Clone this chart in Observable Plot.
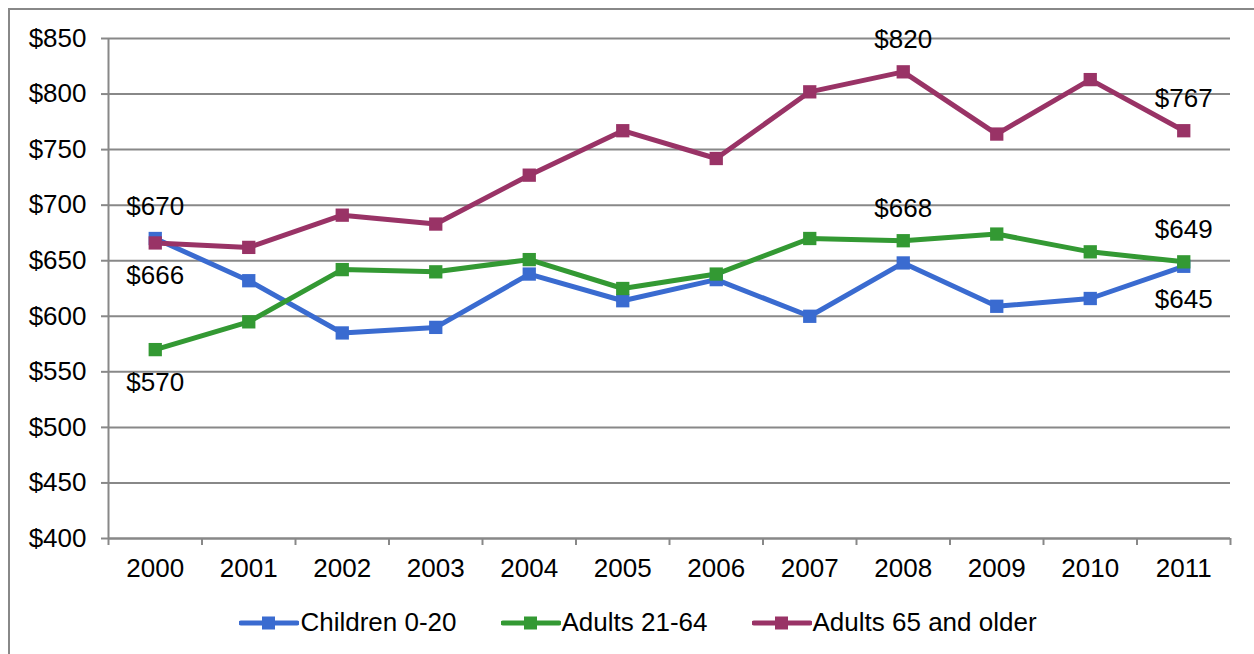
<!DOCTYPE html>
<html>
<head>
<meta charset="utf-8">
<script src="https://cdn.jsdelivr.net/npm/d3@7"></script>
<script src="https://cdn.jsdelivr.net/npm/@observablehq/plot@0.6"></script>
<style>
  html, body { margin: 0; padding: 0; background: #fff; overflow: hidden; }
  body { width: 1254px; height: 654px; position: relative; font-family: "Liberation Sans", Arial, sans-serif; }
  #frame { position: absolute; left: 8px; top: 8px; width: 1300px; height: 700px; border: 2px solid #888; box-sizing: border-box; }
  #chart { position: absolute; left: 0; top: 0; }
  #legend { position: absolute; left: 0; top: 607px; width: 1254px; display: flex; justify-content: center; padding-left: 22px; box-sizing: border-box; font-size: 26px; color: #000; }
  .item { display: flex; align-items: center; margin: 0 22px; white-space: nowrap; }
  .item svg { margin-right: 1px; }
</style>
</head>
<body>
<div id="frame"></div>
<div id="chart"></div>
<div id="legend"></div>
<script>
// Average monthly spending by age group, 2000-2011
const years = [2000, 2001, 2002, 2003, 2004, 2005, 2006, 2007, 2008, 2009, 2010, 2011];
const children = [670, 632, 585, 590, 638, 614, 633, 600, 648, 609, 616, 645];
const adults = [570, 595, 642, 640, 651, 625, 638, 670, 668, 674, 658, 649];
const seniors = [666, 662, 691, 683, 727, 767, 742, 802, 820, 764, 813, 767];
const seriesNames = ["Children 0-20", "Adults 21-64", "Adults 65 and older"];
const seriesColors = ["#3a6bd0", "#339933", "#993366"];
const yTicks = [400, 450, 500, 550, 600, 650, 700, 750, 800, 850];

// Value labels: series index, year, and side of the marker
const valueLabels = [
  {series: 0, year: 2000, side: "above"},
  {series: 2, year: 2000, side: "below"},
  {series: 1, year: 2000, side: "below"},
  {series: 2, year: 2008, side: "above"},
  {series: 1, year: 2008, side: "above"},
  {series: 2, year: 2011, side: "above"},
  {series: 1, year: 2011, side: "above"},
  {series: 0, year: 2011, side: "below"}
];

const seriesValues = [children, adults, seniors];
const rows = seriesValues.flatMap((vals, i) =>
  years.map((year, j) => ({series: seriesNames[i], year, value: vals[j]}))
);
const labelRows = valueLabels.map(l => {
  const value = seriesValues[l.series][years.indexOf(l.year)];
  return {year: l.year, value, side: l.side, text: "$" + value};
});
// Category boundaries for the tick marks between years
const boundaries = [years[0] - 0.5, ...years.map(y => y + 0.5)];

const fontFamily = "'Liberation Sans', Arial, sans-serif";
const gray = "#888";
const fs = 26;

const chart = Plot.plot({
  width: 1254,
  height: 600,
  marginTop: 38,
  marginBottom: 62,
  marginLeft: 108,
  marginRight: 24,
  style: {fontFamily, fontSize: fs + "px", color: "#000", background: "transparent", overflow: "visible"},
  x: {type: "linear", domain: [years[0] - 0.5, years[years.length - 1] + 0.5]},
  y: {domain: [400, 850]},
  color: {domain: seriesNames, range: seriesColors},
  marks: [
    Plot.gridY(yTicks, {stroke: gray, strokeOpacity: 1, strokeWidth: 2}),
    Plot.ruleX([boundaries[0]], {stroke: gray, strokeWidth: 2}),
    Plot.ruleY([400], {stroke: gray, strokeWidth: 2}),
    Plot.axisY({ticks: yTicks, tickSize: 7, tickPadding: 15, tickFormat: d => "$" + d, stroke: gray, strokeWidth: 2, fontSize: fs, fill: "#000", label: null}),
    Plot.axisX({ticks: boundaries, tickSize: 7, tickFormat: () => "", stroke: gray, strokeWidth: 2, label: null}),
    Plot.axisX({ticks: years, tickSize: 0, tickPadding: 20, tickFormat: d => String(d), fontSize: fs, fill: "#000", label: null}),
    Plot.line(rows, {x: "year", y: "value", z: "series", stroke: "series", strokeWidth: 5, strokeLinejoin: "round"}),
    Plot.dot(rows, {x: "year", y: "value", fill: "series", symbol: "square", r: 7.5}),
    Plot.text(labelRows, {x: "year", y: "value", text: "text", fontSize: fs, fill: "#000", filter: d => d.side === "above", dy: -32}),
    Plot.text(labelRows, {x: "year", y: "value", text: "text", fontSize: fs, fill: "#000", filter: d => d.side === "below", dy: 33})
  ]
});
document.getElementById("chart").appendChild(chart);

// Legend below the chart
const legend = document.getElementById("legend");
seriesNames.forEach((name, i) => {
  const item = document.createElement("div");
  item.className = "item";
  item.innerHTML =
    `<svg width="60" height="16"><line x1="2" x2="58" y1="8" y2="8" stroke="${seriesColors[i]}" stroke-width="5" stroke-linecap="round"/>` +
    `<rect x="23" y="1.5" width="13" height="13" fill="${seriesColors[i]}"/></svg><span>${name}</span>`;
  legend.appendChild(item);
});
</script>
</body>
</html>
